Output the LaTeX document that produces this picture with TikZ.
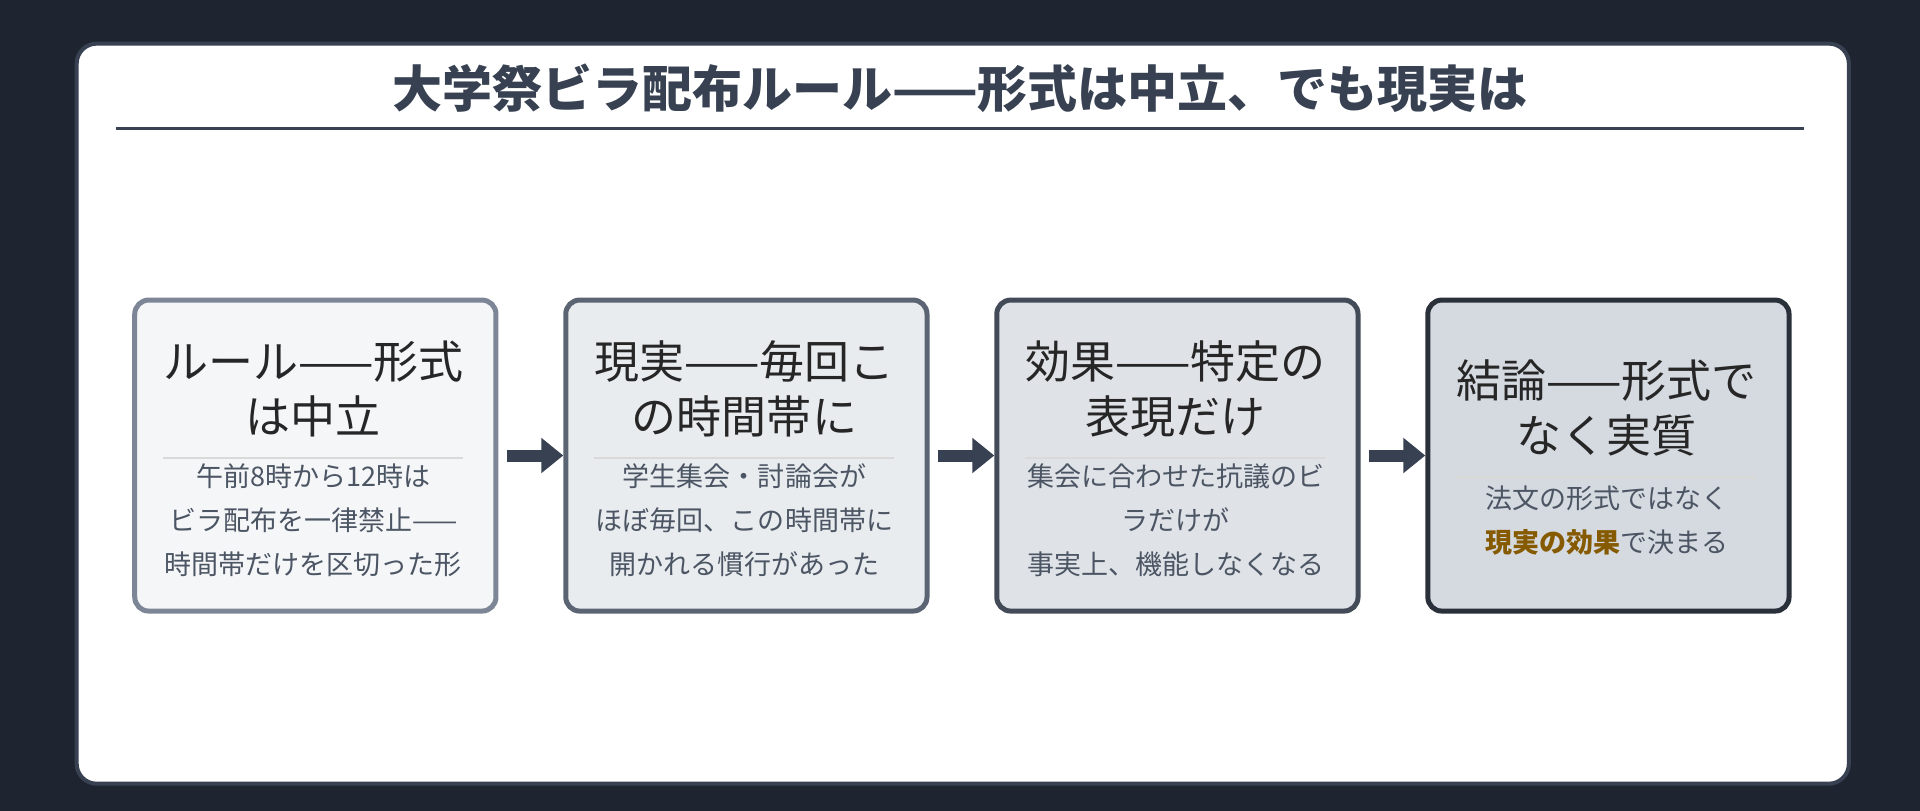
\documentclass[tikz,border=0pt]{standalone}
\usepackage{fontspec}
\setmainfont{Noto Sans CJK JP}
\usetikzlibrary{arrows.meta}
\definecolor{bgc}{HTML}{1E2530}
\definecolor{ink}{HTML}{374151}
\definecolor{body}{HTML}{4B5563}
\definecolor{hl}{HTML}{855A00}
\definecolor{bd1}{HTML}{7D8696}\definecolor{fl1}{HTML}{F5F6F8}
\definecolor{bd2}{HTML}{5B6472}\definecolor{fl2}{HTML}{E9ECEF}
\definecolor{bd3}{HTML}{434B59}\definecolor{fl3}{HTML}{DFE2E7}
\definecolor{bd4}{HTML}{2A303A}\definecolor{fl4}{HTML}{D5D9E0}
\begin{document}
\begin{tikzpicture}[x=0.6122pt,y=-0.6122pt,
  box/.style={draw=#1,line width=2.5pt,rounded corners=7pt,minimum width=180.6pt,minimum height=155.5pt,anchor=north west},
  ttl/.style={font=\fontsize{22.5}{27.5}\selectfont,text=black!85,align=center},
  bdy/.style={font=\fontsize{13.5}{22}\selectfont,text=body,align=center},
  sep/.style={draw=black!15,line width=1.2pt},
  arr/.style={draw=ink,line width=6pt,-{Triangle[length=11pt,width=17pt]}}]
\fill[bgc] (0,0) rectangle (1568,662);
\useasboundingbox (0,0) rectangle (1568,662);
\node[draw=ink,fill=white,line width=2pt,rounded corners=10pt,minimum width=886pt,minimum height=370pt,anchor=north west] (card) at (61,34) {};
\node[font=\bfseries\fontsize{25}{28}\selectfont,text=ink] (title) at (784,72) {大学祭ビラ配布ルール——形式は中立、でも現実は};
\draw[ink,line width=1.2pt] (95,105) coordinate (r1) -- (1473,105) coordinate (r2);
\node[box=bd1,fill=fl1] (b1) at (108,243) {};
\node[box=bd2,fill=fl2] (b2) at (460,243) {};
\node[box=bd3,fill=fl3] (b3) at (812,243) {};
\node[box=bd4,fill=fl4] (b4) at (1164,243) {};
% box1
\node[ttl] (t1) at (256,318) {ルール——形式\\は中立};
\draw[sep] (133,374) coordinate (s1a) -- (378,374) coordinate (s1b);
\node[bdy] (d1) at (256,425) {午前8時から12時は\\ビラ配布を一律禁止——\\時間帯だけを区切った形};
% box2
\node[ttl] (t2) at (608,318) {現実——毎回こ\\の時間帯に};
\draw[sep] (485,374) coordinate (s2a) -- (730,374) coordinate (s2b);
\node[bdy] (d2) at (608,425) {学生集会・討論会が\\ほぼ毎回、この時間帯に\\開かれる慣行があった};
% box3
\node[ttl] (t3) at (960,318) {効果——特定の\\表現だけ};
\draw[sep] (837,374) coordinate (s3a) -- (1082,374) coordinate (s3b);
\node[bdy] (d3) at (960,425) {集会に合わせた抗議のビ\\ラだけが\\事実上、機能しなくなる};
% box4
\node[ttl] (t4) at (1312,333) {結論——形式で\\なく実質};
\draw[sep] (1189,390) coordinate (s4a) -- (1434,390) coordinate (s4b);
\node[bdy] (d4) at (1312,425) {法文の形式ではなく\\{\bfseries\color{hl}現実の効果}で決まる};
% arrows
\draw[arr] (414,372) -- (b2.west|-0,372);
\draw[arr] (766,372) -- (b3.west|-0,372);
\draw[arr] (1118,372) -- (b4.west|-0,372);
\end{tikzpicture}
\end{document}
